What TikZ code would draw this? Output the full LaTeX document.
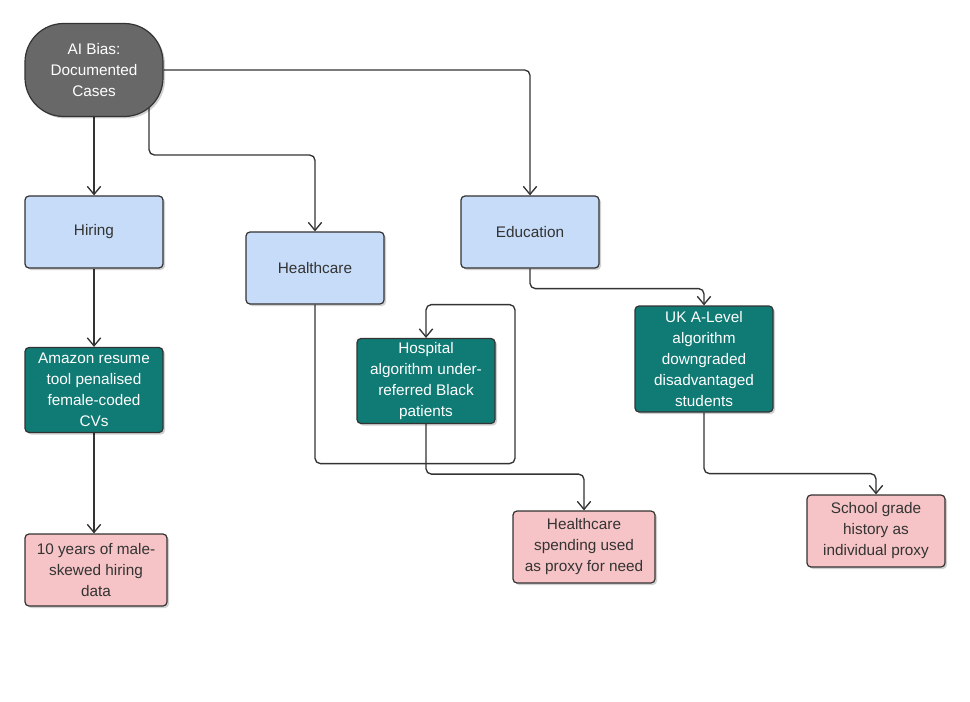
\documentclass[tikz,border=0pt]{standalone}
\usepackage{fontspec}
\setmainfont{Liberation Sans}
\usetikzlibrary{arrows.meta, positioning, shadows}
\definecolor{biasGray}{RGB}{104, 104, 104}
\definecolor{biasBlue}{RGB}{199, 220, 248}
\definecolor{biasTeal}{RGB}{16, 122, 116}
\definecolor{biasPink}{RGB}{246, 196, 198}
\definecolor{edgeDark}{RGB}{51, 51, 51}
\pgfdeclarelayer{background}
\pgfsetlayers{background,main}

\begin{document}
\begin{tikzpicture}[
        x=0.75pt,
        y=-0.75pt,
        link/.style={line width=1pt, edgeDark, rounded corners=4pt, -{Straight Barb[length=6pt, width=10pt]}},
        boxBase/.style={
            rectangle,
            rounded corners=3pt,
            draw=edgeDark,
            line width=0.9pt,
            align=center,
            inner sep=2pt,
            minimum width=103.5pt,
            font=\fontsize{11.5}{15.75}\selectfont,
            drop shadow={shadow xshift=1.5pt, shadow yshift=-1.5pt, opacity=0.18, fill=black}
        },
        rootBox/.style={boxBase, fill=biasGray, text=white, rounded corners=29pt, minimum height=69.75pt},
        areaBox/.style={boxBase, fill=biasBlue, text=edgeDark, minimum height=54pt},
        caseBox/.style={boxBase, fill=biasTeal, text=white, minimum height=63.75pt},
        causeBox/.style={boxBase, fill=biasPink, text=edgeDark, minimum width=106.5pt, minimum height=54pt}
    ]
        \useasboundingbox (0,0) rectangle (970,702);

        \node[rootBox] (root) at (94,70) {AI Bias:\\Documented\\Cases};
        \coordinate (rootExit) at (149,104);

        \node[areaBox] (hiring) at (94,232) {Hiring};
        \node[areaBox] (hcare) at (315,268) {Healthcare};
        \node[areaBox] (edu) at (530,232) {Education};

        \node[caseBox] (amazon) at (94,390)
            {Amazon resume\\tool penalised\\female-coded\\CVs};
        \node[caseBox] (hosp) at (426,381)
            {Hospital\\algorithm under-\\referred Black\\patients};
        \node[caseBox, minimum height=79.5pt] (alevel) at (704,359)
            {UK A-Level\\algorithm\\downgraded\\disadvantaged\\students};

        \node[causeBox] (maledata) at (96,570)
            {10 years of male-\\skewed hiring\\data};
        \node[causeBox] (spend) at (584,547)
            {Healthcare\\spending used\\as proxy for need};
        \node[causeBox, minimum width=103.5pt] (grades) at (876,531)
            {School grade\\history as\\individual proxy};

        \begin{pgfonlayer}{background}
            \draw[link] (root.south) -- (hiring.north);
            \draw[link] (rootExit) -- ++(0,51) -| (hcare.north);
            \draw[link] (root.east) -| (edu.north);
            \draw[link] (hiring.south) -- (amazon.north);
            \draw[link] (amazon.south) -- (amazon.south |- maledata.north);
            \draw[link] (hcare.south) -- ++(0,159) -- ++(200,0) -- ++(0,-159) -| (hosp.north);
            \draw[link] (hosp.south) -- ++(0,50) -| (spend.north);
            \draw[link] (edu.south) -- ++(0,20) -| (alevel.north);
            \draw[link] (alevel.south) -- ++(0,61) -| (grades.north);
        \end{pgfonlayer}
    \end{tikzpicture}
\end{document}
